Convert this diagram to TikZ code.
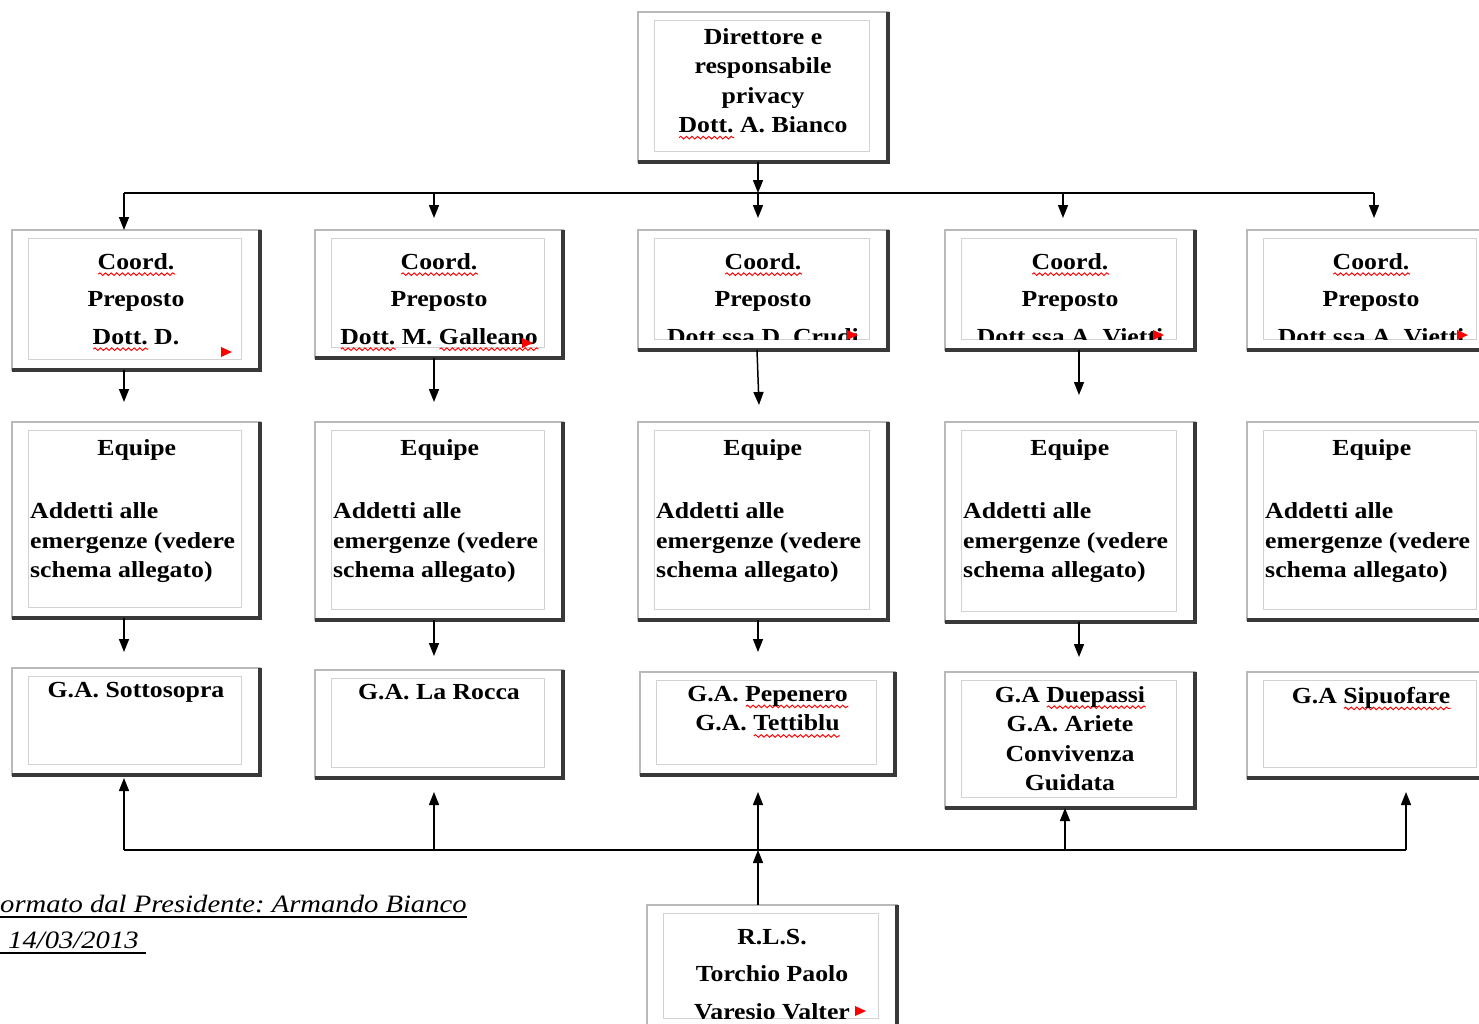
\documentclass[tikz,border=0pt]{standalone}
\usepackage{fontspec}
\setmainfont{Liberation Serif}
\usetikzlibrary{arrows.meta, positioning, decorations.pathmorphing}
\frenchspacing

\newlength{\spellwd}
\newcommand{\spell}[1]{\settowidth{\spellwd}{#1}\rlap{\tikz[baseline=0pt,x=1pt,y=1pt]\draw[red, line width=0.9pt, decorate, decoration={snake, amplitude=1.3pt, segment length=5pt}] (0,-5) -- (\spellwd,-5);}#1}

\begin{document}
\begin{tikzpicture}[x=1pt,y=-1pt,>={Triangle[width=10pt,length=13pt]},line join=miter,
  orgbox/.style={draw=gray!55, line width=1.2pt, fill=white, anchor=north west, inner sep=0pt, outer sep=0pt},
  innerframe/.style={draw=gray!35, line width=1pt},
  edgeshadow/.style={draw=gray!45!black, line width=4pt},
  wire/.style={draw=black, line width=1.5pt},
  boxtext/.style={font=\bfseries\fontsize{23}{29.5}\selectfont, align=center, anchor=north, inner sep=0pt, xscale=1.12},
  coordtext/.style={boxtext, font=\bfseries\fontsize{23}{37.5}\selectfont},
  teamtext/.style={boxtext, align=left, anchor=north west},
  signtext/.style={font=\itshape\fontsize{25}{30}\selectfont, anchor=base west, inner sep=0pt, xscale=1.145},
  marker/.style={fill=red, draw=none}]
\useasboundingbox (0,0) rectangle (1479,1023);
%%
\node[orgbox, minimum width=250pt, minimum height=150pt] (dir) at (638,12) {};
\node[orgbox, minimum width=248pt, minimum height=140pt] (c1) at (12,230) {};
\node[orgbox, minimum width=248pt, minimum height=128pt] (c2) at (315,230) {};
\node[orgbox, minimum width=250pt, minimum height=120pt] (c3) at (638,230) {};
\node[orgbox, minimum width=250pt, minimum height=120pt] (c4) at (945,230) {};
\node[orgbox, minimum width=248pt, minimum height=120pt] (c5) at (1247,230) {};
\node[orgbox, minimum width=248pt, minimum height=196pt] (e1) at (12,422) {};
\node[orgbox, minimum width=248pt, minimum height=198pt] (e2) at (315,422) {};
\node[orgbox, minimum width=250pt, minimum height=198pt] (e3) at (638,422) {};
\node[orgbox, minimum width=250pt, minimum height=200pt] (e4) at (945,422) {};
\node[orgbox, minimum width=248pt, minimum height=198pt] (e5) at (1247,422) {};
\node[orgbox, minimum width=248pt, minimum height=107pt] (g1) at (12,668) {};
\node[orgbox, minimum width=248pt, minimum height=108pt] (g2) at (315,670) {};
\node[orgbox, minimum width=255pt, minimum height=103pt] (g3) at (640,672) {};
\node[orgbox, minimum width=250pt, minimum height=136pt] (g4) at (945,672) {};
\node[orgbox, minimum width=248pt, minimum height=106pt] (g5) at (1247,672) {};
\node[orgbox, minimum width=250pt, minimum height=124pt] (rls) at (647,905) {};
\foreach \b in {dir,c1,c2,c3,c4,c5,e1,e2,e3,e4,e5,g1,g2,g3,g4,g5,rls} {
  \draw[innerframe] ([shift={(16,8)}]\b.north west) rectangle ([shift={(-19,-11)}]\b.south east);
  \draw[edgeshadow] (\b.north east) -- (\b.south east) -- (\b.south west);
}
%% texts
\node[boxtext] (t-dir) [below=16pt of dir.north] {Direttore e\\responsabile\\privacy\\\spell{Dott.} A. Bianco};
\node[coordtext] (t-c1) [below=23pt of c1.north] {\spell{Coord.}\\Preposto\\\spell{Dott.} D.};
\node[coordtext] (t-c2) [below=23pt of c2.north] {\spell{Coord.}\\Preposto\\\spell{Dott.} M. \spell{Galleano}};
\begin{scope}
  \clip ([shift={(16,8)}]c3.north west) rectangle ([shift={(-19,-11)}]c3.south east);
  \node[coordtext] (t-c3) [below=23pt of c3.north] {\spell{Coord.}\\Preposto\\Dott.ssa D. Crudi};
\end{scope}
\begin{scope}
  \clip ([shift={(16,8)}]c4.north west) rectangle ([shift={(-19,-11)}]c4.south east);
  \node[coordtext] (t-c4) [below=23pt of c4.north] {\spell{Coord.}\\Preposto\\Dott.ssa A. Vietti};
\end{scope}
\begin{scope}
  \clip ([shift={(16,8)}]c5.north west) rectangle ([shift={(-19,-11)}]c5.south east);
  \node[coordtext] (t-c5) [below=23pt of c5.north] {\spell{Coord.}\\Preposto\\Dott.ssa A. Vietti};
\end{scope}
\node[teamtext] (t-e1) at ([shift={(18,17)}]e1.north west) {\hspace*{60pt}Equipe\\[34pt]Addetti alle\\emergenze (vedere\\schema allegato)};
\node[teamtext] (t-e2) at ([shift={(18,17)}]e2.north west) {\hspace*{60pt}Equipe\\[34pt]Addetti alle\\emergenze (vedere\\schema allegato)};
\node[teamtext] (t-e3) at ([shift={(18,17)}]e3.north west) {\hspace*{60pt}Equipe\\[34pt]Addetti alle\\emergenze (vedere\\schema allegato)};
\node[teamtext] (t-e4) at ([shift={(18,17)}]e4.north west) {\hspace*{60pt}Equipe\\[34pt]Addetti alle\\emergenze (vedere\\schema allegato)};
\node[teamtext] (t-e5) at ([shift={(18,17)}]e5.north west) {\hspace*{60pt}Equipe\\[34pt]Addetti alle\\emergenze (vedere\\schema allegato)};
\node[boxtext] (t-g1) [below=14pt of g1.north] {G.A. Sottosopra};
\node[boxtext] (t-g2) [below=14pt of g2.north] {G.A. La Rocca};
\node[boxtext] (t-g3) [below=14pt of g3.north] {G.A. \spell{Pepenero}\\G.A. \spell{Tettiblu}};
\node[boxtext] (t-g4) [below=14pt of g4.north] {G.A \spell{Duepassi}\\G.A. Ariete\\Convivenza\\Guidata};
\node[boxtext] (t-g5) [below=15pt of g5.north] {G.A \spell{Sipuofare}};
\begin{scope}
  \clip ([shift={(16,8)}]rls.north west) rectangle ([shift={(-19,-11)}]rls.south east);
  \node[coordtext] (t-rls) [below=24pt of rls.north] {R.L.S.\\Torchio Paolo\\Varesio Valter};
\end{scope}
\node[signtext] (sign) at (0,912) {ormato dal Presidente: Armando Bianco};
\node[signtext] (date) at (0,948) {\hspace*{7pt}14/03/2013\hspace*{6pt}};
\draw[line width=1.4pt] ([yshift=-5pt]sign.base west) -- ([yshift=-5pt]sign.base east);
\draw[line width=1.4pt] ([yshift=-5pt]date.base west) -- ([yshift=-5pt]date.base east);
%% overflow markers
\fill[marker] ([shift={(-39,-13)}]c1.south east) -- ++(0,-10) -- ++(11,5) -- cycle;
\fill[marker] ([shift={(-41,-10)}]c2.south east) -- ++(0,-10) -- ++(11,5) -- cycle;
\fill[marker] ([shift={(-41,-10)}]c3.south east) -- ++(0,-10) -- ++(11,5) -- cycle;
\fill[marker] ([shift={(-42,-10)}]c4.south east) -- ++(0,-10) -- ++(11,5) -- cycle;
\fill[marker] ([shift={(-38,-10)}]c5.south east) -- ++(0,-10) -- ++(11,5) -- cycle;
\fill[marker] ([shift={(-42,111)}]rls.north east) -- ++(0,-10) -- ++(11,5) -- cycle;
%% top connectors
\coordinate (hub) at (758,193);
\coordinate (busl) at (124,193);
\coordinate (busr) at (1374,193);
\coordinate (dn2) at ([xshift=-5pt,yshift=12pt]c2.north);
\coordinate (dn3) at ([yshift=12pt]c3.north);
\coordinate (dn4) at ([xshift=-7pt,yshift=12pt]c4.north);
\coordinate (dn5) at ([yshift=12pt]c5.north);
\draw[wire,->] (hub |- dir.south) -- (hub);
\draw[wire] (busl) -- (busr);
\draw[wire,->] (busl) -- (busl |- c1.north);
\draw[wire,->] (dn2 |- hub) -- (dn2);
\draw[wire,->] (hub) -- (hub |- dn3);
\draw[wire,->] (dn4 |- hub) -- (dn4);
\draw[wire,->] (busr) -- (busr |- dn5);
%% middle connectors
\draw[wire,->] ([xshift=-12pt]c1.south) -- ([xshift=-12pt,yshift=20pt]e1.north);
\draw[wire,->] ([xshift=-5pt]c2.south) -- ([xshift=-5pt,yshift=20pt]e2.north);
\draw[wire,->] ([xshift=-6pt]c3.south) -- ([xshift=-4pt,yshift=17pt]e3.north);
\draw[wire,->] ([xshift=9pt]c4.south) -- ([xshift=9pt,yshift=27pt]e4.north);
\draw[wire,->] ([xshift=-12pt]e1.south) -- ([xshift=-12pt,yshift=16pt]g1.north);
\draw[wire,->] ([xshift=-5pt]e2.south) -- ([xshift=-5pt,yshift=14pt]g2.north);
\draw[wire,->] ([xshift=-5pt]e3.south) -- ([xshift=-9.5pt,yshift=20pt]g3.north);
\draw[wire,->] ([xshift=9pt]e4.south) -- ([xshift=9pt,yshift=15pt]g4.north);
%% bottom connectors
\coordinate (lowl) at (124,850);
\coordinate (lowr) at (1406,850);
\coordinate (up2) at ([xshift=-5pt,yshift=-14pt]g2.south);
\coordinate (up3) at ([xshift=-9.5pt,yshift=-17pt]g3.south);
\coordinate (up4) at ([xshift=-5pt]g4.south);
\coordinate (up5) at ([yshift=-14pt]lowr |- g5.south);
\coordinate (rtop) at ([xshift=-14pt]rls.north);
\draw[wire] (lowl) -- (lowr);
\draw[wire,->] (lowl) -- ([yshift=-3pt]lowl |- g1.south);
\draw[wire,->] (up2 |- lowl) -- (up2);
\draw[wire,->] (up3 |- lowl) -- (up3);
\draw[wire,->] (up4 |- lowl) -- (up4);
\draw[wire,->] (lowr) -- (up5);
\draw[wire,->] (rtop) -- (rtop |- lowl);
%
\end{tikzpicture}
\end{document}
